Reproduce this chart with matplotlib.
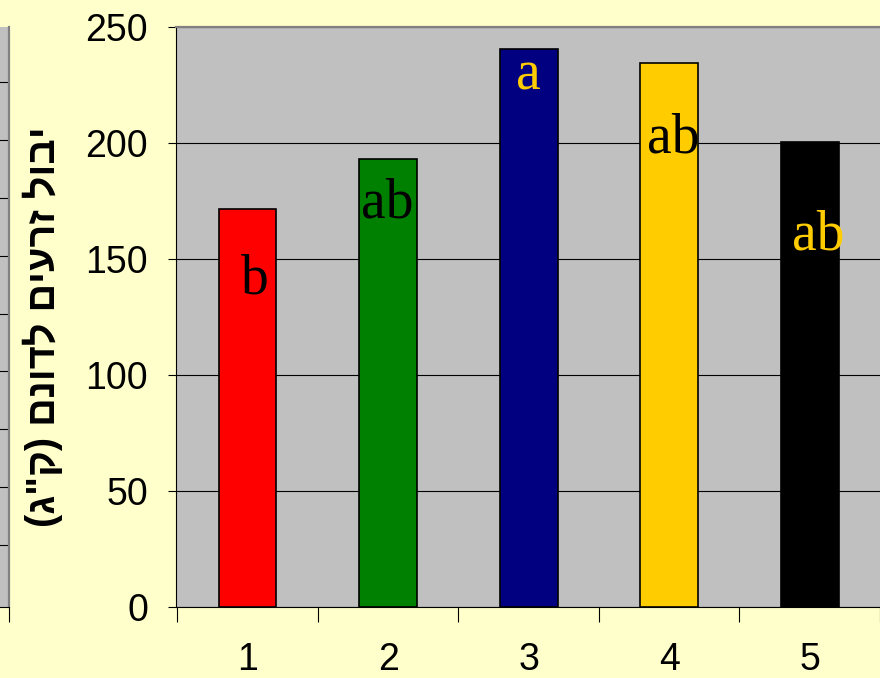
import matplotlib
matplotlib.use("Agg")
from matplotlib import pyplot as plt

# values
groups = ["1", "2", "3", "4", "5"]
yields = [171.4, 193.0, 240.5, 234.3, 200.4]
bar_colors = ["#FF0000", "#008000", "#000080", "#FFCC00", "#000000"]
letters = ["b", "ab", "a", "ab", "ab"]
letter_colors = ["#000000", "#000000", "#FFCC00", "#000000", "#FFCC00"]
letter_y = [135, 168, 223, 196, 154]
letter_dx = [0.05, -0.01, 0.0, 0.03, 0.06]
ylabel = 'יבול זרעים לדונם (ק"ג)'

plt.rcParams["font.family"] = ["Liberation Sans", "DejaVu Sans"]

fig = plt.figure(figsize=(8.8, 6.78), dpi=100)
fig.patch.set_facecolor("#FFFFCC")

# partial panel of a neighbouring chart on the far left
side = fig.add_axes([-0.1, 1 - 607 / 678, 0.1 + 9 / 880, 580 / 678])
side.set_facecolor("#C0C0C0")
side.set_ylim(-0.08, 9.96)
side.set_xlim(0, 1)
for k in range(1, 10):
    side.axhline(k, color="#000000", lw=0.8)
side.set_xticks([1.0])
side.set_xticklabels([])
side.set_yticks([])
side.tick_params(axis="x", length=11, width=0.8, direction="out")
for s in ["top", "left"]:
    side.spines[s].set_visible(False)
side.spines["right"].set_color("#808080")
side.spines["right"].set_linewidth(1.6)

ax = fig.add_axes([176 / 880, 1 - 607 / 678, 704 / 880, 580 / 678])
ax.set_facecolor("#C0C0C0")
x = list(range(1, len(groups) + 1))
ax.bar(x, yields, width=0.41, color=bar_colors, edgecolor="#000000",
       linewidth=1.2, zorder=3)
ax.set_xlim(0.49, 5.5)
ax.set_ylim(0, 250)
ax.set_yticks([0, 50, 100, 150, 200, 250])
ax.yaxis.grid(True, color="#000000", lw=0.8, zorder=1)
ax.set_xticks([0.5, 1.5, 2.5, 3.5, 4.5, 5.5])
ax.set_xticklabels([])
ax.set_xticks(x, minor=True)
ax.set_xticklabels(groups, minor=True)
ax.tick_params(axis="x", which="major", length=11, width=0.8, direction="out")
ax.tick_params(axis="x", which="minor", length=0, labelsize=27, pad=25)
ax.tick_params(axis="y", length=6, width=0.8, direction="out", labelsize=27, pad=14)
ax.spines["top"].set_color("#808080")
ax.spines["top"].set_linewidth(1.6)
ax.spines["right"].set_visible(False)

for xi, lt, lc, ly, dx in zip(x, letters, letter_colors, letter_y, letter_dx):
    ax.text(xi + dx, ly, lt, color=lc, ha="center", va="baseline",
            fontsize=40, family="Liberation Serif", zorder=4)

# Hebrew reads right to left: reverse for display and mirror the brackets
shown = ylabel[::-1].translate(str.maketrans("()", ")("))
fig.text(43 / 880, 1 - 327 / 678, shown, rotation=90, ha="center", va="center",
         fontsize=28.5, fontweight="bold")

fig.savefig("out.png", facecolor=fig.get_facecolor())
